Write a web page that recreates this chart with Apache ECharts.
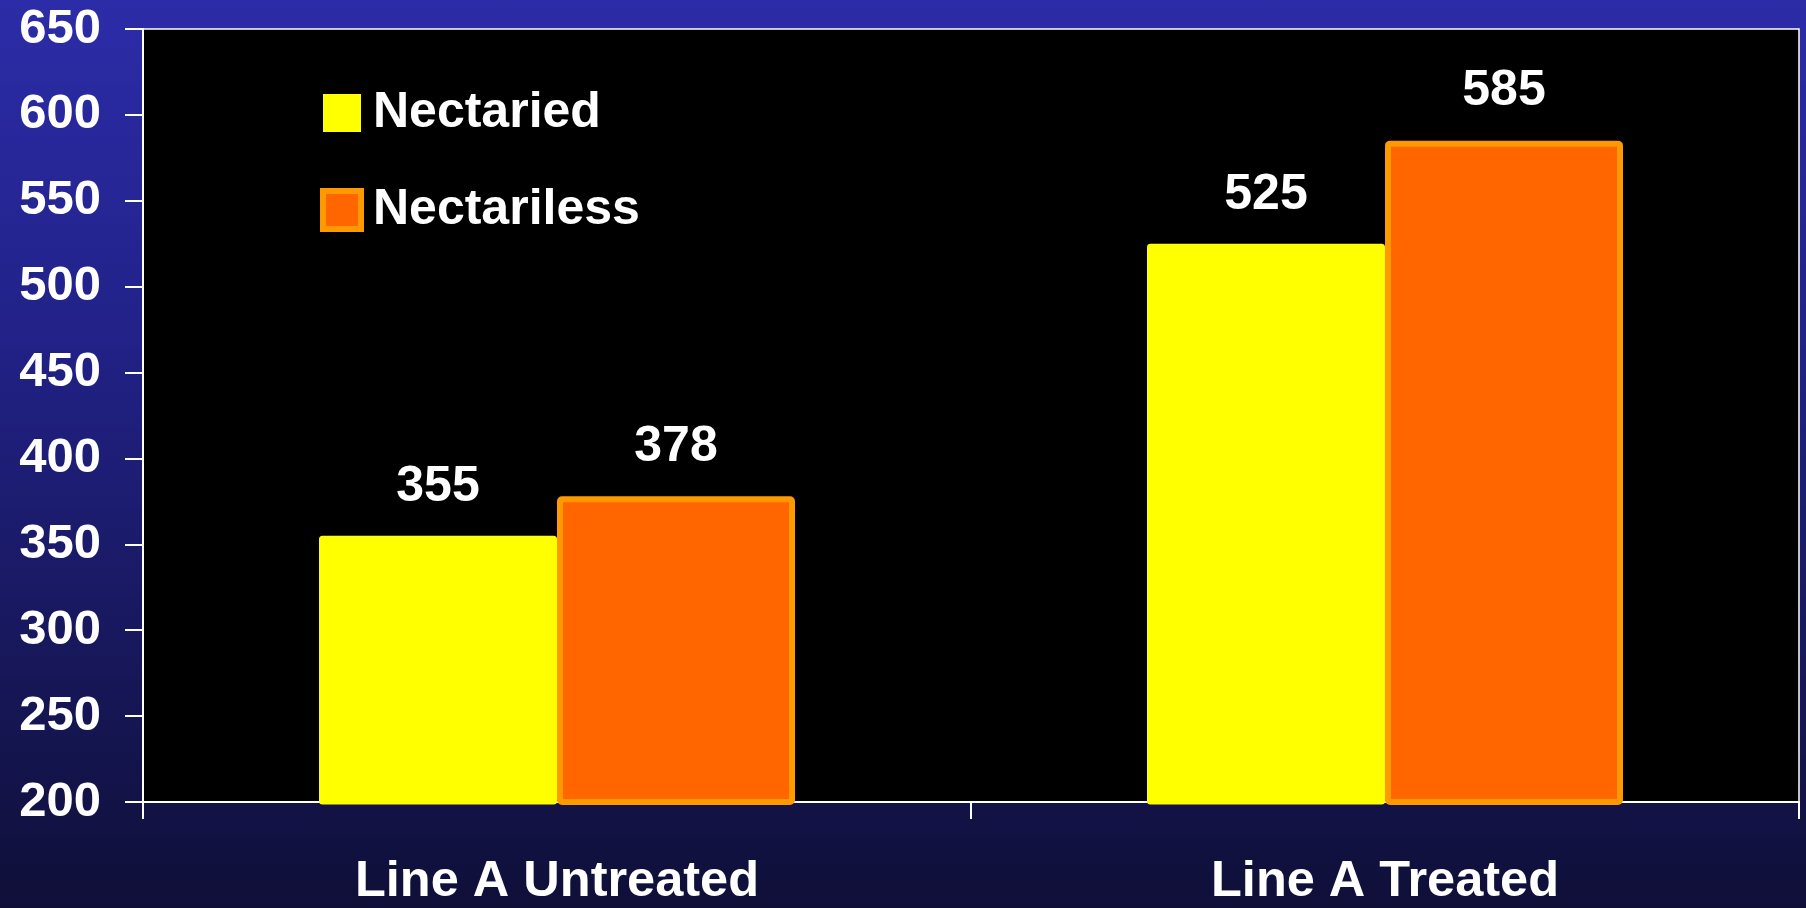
<!DOCTYPE html>
<html>
<head>
<meta charset="utf-8">
<script src="https://cdn.jsdelivr.net/npm/echarts@6/dist/echarts.min.js"></script>
<style>
html,body{margin:0;padding:0;}
body{width:1806px;height:908px;background:linear-gradient(to bottom,#2c2ca8 0%,#22228a 35%,#18185e 70%,#0f0f38 100%);}
#chart{width:1806px;height:908px;}
</style>
</head>
<body>
<div id="chart"></div>
<script>
const categories = ['Line A Untreated', 'Line A Treated'];
const nectaried = [355, 525];
const nectariless = [378, 585];
const seriesNames = ['Nectaried', 'Nectariless'];
const yMin = 200, yMax = 650, yStep = 50;

const FONT = '"Liberation Sans", Arial, sans-serif';
const chart = echarts.init(document.getElementById('chart'), null, {renderer: 'canvas'});
chart.setOption({
  backgroundColor: 'transparent',
  animation: false,
  grid: {
    left: 143, top: 29, right: 7, bottom: 105,
    show: true, backgroundColor: '#000000', borderColor: '#ffffff', borderWidth: 1.5
  },
  legend: {
    orient: 'vertical', left: 315, top: 83,
    itemWidth: 38, itemHeight: 38, itemGap: 47,
    icon: 'rect',
    textStyle: {color: '#ffffff', fontSize: 50, fontWeight: 'bold', fontFamily: FONT, padding: [0,0,0,7]},
    data: [
      {name: seriesNames[0], itemStyle: {borderWidth: 0}},
      {name: seriesNames[1], itemStyle: {borderColor: '#ff9900', borderWidth: 6}}
    ]
  },
  xAxis: {
    type: 'category', data: categories,
    axisLine: {lineStyle: {color: '#ffffff', width: 2}},
    axisTick: {show: true, length: 17, lineStyle: {color: '#ffffff', width: 2}},
    axisLabel: {color: '#ffffff', fontSize: 50.5, fontWeight: 'bold', fontFamily: FONT, margin: 55}
  },
  yAxis: {
    type: 'value', min: yMin, max: yMax, interval: yStep,
    axisLine: {show: true, lineStyle: {color: '#ffffff', width: 2}},
    axisTick: {show: true, length: 18, lineStyle: {color: '#ffffff', width: 2}},
    splitLine: {show: false},
    axisLabel: {color: '#ffffff', fontSize: 49, fontWeight: 'bold', fontFamily: FONT, margin: 42}
  },
  series: [
    {
      name: seriesNames[0], type: 'bar', data: nectaried,
      barWidth: 238, barGap: '0%',
      itemStyle: {color: '#ffff00', borderColor: '#ffff00', borderWidth: 5, borderRadius: 1},
      label: {show: true, position: 'top', distance: 24, color: '#ffffff', fontSize: 50, fontWeight: 'bold', fontFamily: FONT}
    },
    {
      name: seriesNames[1], type: 'bar', data: nectariless,
      barWidth: 238, barGap: '0%',
      itemStyle: {color: '#ff6600', borderColor: '#ff9900', borderWidth: 6, borderRadius: 2},
      label: {show: true, position: 'top', distance: 24, color: '#ffffff', fontSize: 50, fontWeight: 'bold', fontFamily: FONT}
    }
  ]
});
</script>
</body>
</html>
